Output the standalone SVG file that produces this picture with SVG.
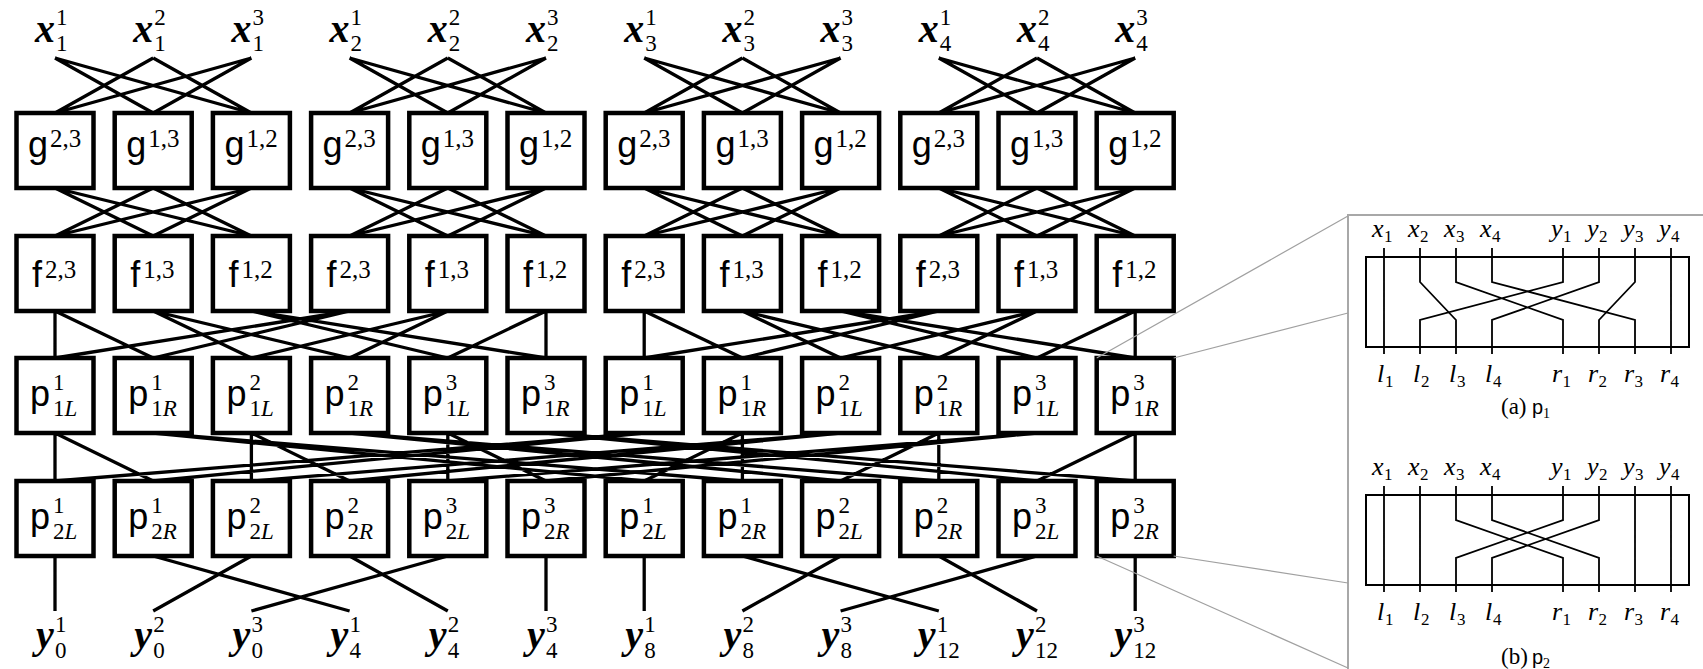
<svg xmlns="http://www.w3.org/2000/svg" width="1703" height="669" viewBox="0 0 1703 669">
<style>
.bx{fill:#fff;stroke:#000;stroke-width:4.5}
.w{fill:none;stroke:#000;stroke-width:3.3}
.v{font-family:"Liberation Serif",serif;font-style:italic;font-weight:bold;font-size:40px}
.d{font-family:"Liberation Serif",serif;font-size:23px}
.e{font-family:"Liberation Serif",serif;font-size:25px}
.sf{font-family:"Liberation Sans",sans-serif;font-size:36px}
.it{font-style:italic}
.pw{fill:none;stroke:#000;stroke-width:1.8}
.pr{fill:none;stroke:#000;stroke-width:2}
.pl{font-family:"Liberation Serif",serif;font-style:italic;font-size:26px}
.ps{font-family:"Liberation Serif",serif;font-size:17px}
.cap{font-family:"Liberation Serif",serif;font-size:23px}
.cps{font-family:"Liberation Sans",sans-serif;font-size:20px}
.cs{font-family:"Liberation Serif",serif;font-size:14px}
.gr{fill:none;stroke:#a0a0a0;stroke-width:1.2}
.gb{fill:none;stroke:#a8a8a8;stroke-width:2}
</style>
<defs>
<path id="xg" d="M55,58L153.2,113M55,58L251.4,113M153.2,58L55,113M153.2,58L251.4,113M251.4,58L55,113M251.4,58L153.2,113"/>
<path id="gf" d="M55,188L153.2,236M55,188L251.4,236M153.2,188L55,236M153.2,188L251.4,236M251.4,188L55,236M251.4,188L153.2,236"/>
<path id="fp" d="M55,311L55,358M55,311L153.2,358M349.6,311L55,358M349.6,311L153.2,358M153.2,311L251.4,358M153.2,311L349.6,358M447.8,311L251.4,358M447.8,311L349.6,358M251.4,311L447.8,358M251.4,311L546,358M546,311L447.8,358M546,311L546,358"/>
<path id="py" d="M55,556L55,611M153.2,556L349.6,611M251.4,556L153.2,611M349.6,556L447.8,611M447.8,556L251.4,611M546,556L546,611"/>
</defs>

<g id="connectors" class="w">
<use href="#xg"/><use href="#xg" x="294.6"/><use href="#xg" x="589.2"/><use href="#xg" x="883.8"/>
<use href="#gf"/><use href="#gf" x="294.6"/><use href="#gf" x="589.2"/><use href="#gf" x="883.8"/>
<use href="#fp"/><use href="#fp" x="589.2"/>
<path d="M55,433L55,481M55,433L153.2,481M644.2,433L55,481M644.2,433L153.2,481M153.2,433L644.2,481M153.2,433L742.4,481M742.4,433L644.2,481M742.4,433L742.4,481M251.4,433L251.4,481M251.4,433L349.6,481M840.6,433L251.4,481M840.6,433L349.6,481M349.6,433L840.6,481M349.6,433L938.8,481M938.8,433L840.6,481M938.8,433L938.8,481M447.8,433L447.8,481M447.8,433L546,481M1037,433L447.8,481M1037,433L546,481M546,433L1037,481M546,433L1135.2,481M1135.2,433L1037,481M1135.2,433L1135.2,481"/>
<use href="#py"/><use href="#py" x="589.2"/>
</g>

<g id="inputs">
<g id="x-1"><text class="v" x="35" y="42">x</text><text class="d" x="56" y="25">1</text><text class="d" x="56" y="51">1</text></g>
<g id="x-2"><text class="v" x="133.2" y="42">x</text><text class="d" x="154.2" y="25">2</text><text class="d" x="154.2" y="51">1</text></g>
<g id="x-3"><text class="v" x="231.4" y="42">x</text><text class="d" x="252.4" y="25">3</text><text class="d" x="252.4" y="51">1</text></g>
<g id="x-4"><text class="v" x="329.6" y="42">x</text><text class="d" x="350.6" y="25">1</text><text class="d" x="350.6" y="51">2</text></g>
<g id="x-5"><text class="v" x="427.8" y="42">x</text><text class="d" x="448.8" y="25">2</text><text class="d" x="448.8" y="51">2</text></g>
<g id="x-6"><text class="v" x="526" y="42">x</text><text class="d" x="547" y="25">3</text><text class="d" x="547" y="51">2</text></g>
<g id="x-7"><text class="v" x="624.2" y="42">x</text><text class="d" x="645.2" y="25">1</text><text class="d" x="645.2" y="51">3</text></g>
<g id="x-8"><text class="v" x="722.4" y="42">x</text><text class="d" x="743.4" y="25">2</text><text class="d" x="743.4" y="51">3</text></g>
<g id="x-9"><text class="v" x="820.6" y="42">x</text><text class="d" x="841.6" y="25">3</text><text class="d" x="841.6" y="51">3</text></g>
<g id="x-10"><text class="v" x="918.8" y="42">x</text><text class="d" x="939.8" y="25">1</text><text class="d" x="939.8" y="51">4</text></g>
<g id="x-11"><text class="v" x="1017" y="42">x</text><text class="d" x="1038" y="25">2</text><text class="d" x="1038" y="51">4</text></g>
<g id="x-12"><text class="v" x="1115.2" y="42">x</text><text class="d" x="1136.2" y="25">3</text><text class="d" x="1136.2" y="51">4</text></g>
</g>

<g id="g-row">
<g id="g-1"><rect class="bx" x="16.5" y="113" width="77" height="75"/><text class="sf" x="28" y="157">g</text><text class="e" x="50" y="147">2,3</text></g>
<g id="g-2"><rect class="bx" x="114.7" y="113" width="77" height="75"/><text class="sf" x="126.2" y="157">g</text><text class="e" x="148.2" y="147">1,3</text></g>
<g id="g-3"><rect class="bx" x="212.9" y="113" width="77" height="75"/><text class="sf" x="224.4" y="157">g</text><text class="e" x="246.4" y="147">1,2</text></g>
<g id="g-4"><rect class="bx" x="311.1" y="113" width="77" height="75"/><text class="sf" x="322.6" y="157">g</text><text class="e" x="344.6" y="147">2,3</text></g>
<g id="g-5"><rect class="bx" x="409.3" y="113" width="77" height="75"/><text class="sf" x="420.8" y="157">g</text><text class="e" x="442.8" y="147">1,3</text></g>
<g id="g-6"><rect class="bx" x="507.5" y="113" width="77" height="75"/><text class="sf" x="519" y="157">g</text><text class="e" x="541" y="147">1,2</text></g>
<g id="g-7"><rect class="bx" x="605.7" y="113" width="77" height="75"/><text class="sf" x="617.2" y="157">g</text><text class="e" x="639.2" y="147">2,3</text></g>
<g id="g-8"><rect class="bx" x="703.9" y="113" width="77" height="75"/><text class="sf" x="715.4" y="157">g</text><text class="e" x="737.4" y="147">1,3</text></g>
<g id="g-9"><rect class="bx" x="802.1" y="113" width="77" height="75"/><text class="sf" x="813.6" y="157">g</text><text class="e" x="835.6" y="147">1,2</text></g>
<g id="g-10"><rect class="bx" x="900.3" y="113" width="77" height="75"/><text class="sf" x="911.8" y="157">g</text><text class="e" x="933.8" y="147">2,3</text></g>
<g id="g-11"><rect class="bx" x="998.5" y="113" width="77" height="75"/><text class="sf" x="1010" y="157">g</text><text class="e" x="1032" y="147">1,3</text></g>
<g id="g-12"><rect class="bx" x="1096.7" y="113" width="77" height="75"/><text class="sf" x="1108.2" y="157">g</text><text class="e" x="1130.2" y="147">1,2</text></g>
</g>

<g id="f-row">
<g id="f-1"><rect class="bx" x="16.5" y="236" width="77" height="75"/><text class="sf" x="32" y="287">f</text><text class="e" x="45" y="278">2,3</text></g>
<g id="f-2"><rect class="bx" x="114.7" y="236" width="77" height="75"/><text class="sf" x="130.2" y="287">f</text><text class="e" x="143.2" y="278">1,3</text></g>
<g id="f-3"><rect class="bx" x="212.9" y="236" width="77" height="75"/><text class="sf" x="228.4" y="287">f</text><text class="e" x="241.4" y="278">1,2</text></g>
<g id="f-4"><rect class="bx" x="311.1" y="236" width="77" height="75"/><text class="sf" x="326.6" y="287">f</text><text class="e" x="339.6" y="278">2,3</text></g>
<g id="f-5"><rect class="bx" x="409.3" y="236" width="77" height="75"/><text class="sf" x="424.8" y="287">f</text><text class="e" x="437.8" y="278">1,3</text></g>
<g id="f-6"><rect class="bx" x="507.5" y="236" width="77" height="75"/><text class="sf" x="523" y="287">f</text><text class="e" x="536" y="278">1,2</text></g>
<g id="f-7"><rect class="bx" x="605.7" y="236" width="77" height="75"/><text class="sf" x="621.2" y="287">f</text><text class="e" x="634.2" y="278">2,3</text></g>
<g id="f-8"><rect class="bx" x="703.9" y="236" width="77" height="75"/><text class="sf" x="719.4" y="287">f</text><text class="e" x="732.4" y="278">1,3</text></g>
<g id="f-9"><rect class="bx" x="802.1" y="236" width="77" height="75"/><text class="sf" x="817.6" y="287">f</text><text class="e" x="830.6" y="278">1,2</text></g>
<g id="f-10"><rect class="bx" x="900.3" y="236" width="77" height="75"/><text class="sf" x="915.8" y="287">f</text><text class="e" x="928.8" y="278">2,3</text></g>
<g id="f-11"><rect class="bx" x="998.5" y="236" width="77" height="75"/><text class="sf" x="1014" y="287">f</text><text class="e" x="1027" y="278">1,3</text></g>
<g id="f-12"><rect class="bx" x="1096.7" y="236" width="77" height="75"/><text class="sf" x="1112.2" y="287">f</text><text class="e" x="1125.2" y="278">1,2</text></g>
</g>

<g id="p1-row">
<g id="p1-1"><rect class="bx" x="16.5" y="358" width="77" height="75"/><text class="sf" x="30" y="406">p</text><text class="d" x="53" y="390">1</text><text class="d" x="53" y="416">1<tspan class="it">L</tspan></text></g>
<g id="p1-2"><rect class="bx" x="114.7" y="358" width="77" height="75"/><text class="sf" x="128.2" y="406">p</text><text class="d" x="151.2" y="390">1</text><text class="d" x="151.2" y="416">1<tspan class="it">R</tspan></text></g>
<g id="p1-3"><rect class="bx" x="212.9" y="358" width="77" height="75"/><text class="sf" x="226.4" y="406">p</text><text class="d" x="249.4" y="390">2</text><text class="d" x="249.4" y="416">1<tspan class="it">L</tspan></text></g>
<g id="p1-4"><rect class="bx" x="311.1" y="358" width="77" height="75"/><text class="sf" x="324.6" y="406">p</text><text class="d" x="347.6" y="390">2</text><text class="d" x="347.6" y="416">1<tspan class="it">R</tspan></text></g>
<g id="p1-5"><rect class="bx" x="409.3" y="358" width="77" height="75"/><text class="sf" x="422.8" y="406">p</text><text class="d" x="445.8" y="390">3</text><text class="d" x="445.8" y="416">1<tspan class="it">L</tspan></text></g>
<g id="p1-6"><rect class="bx" x="507.5" y="358" width="77" height="75"/><text class="sf" x="521" y="406">p</text><text class="d" x="544" y="390">3</text><text class="d" x="544" y="416">1<tspan class="it">R</tspan></text></g>
<g id="p1-7"><rect class="bx" x="605.7" y="358" width="77" height="75"/><text class="sf" x="619.2" y="406">p</text><text class="d" x="642.2" y="390">1</text><text class="d" x="642.2" y="416">1<tspan class="it">L</tspan></text></g>
<g id="p1-8"><rect class="bx" x="703.9" y="358" width="77" height="75"/><text class="sf" x="717.4" y="406">p</text><text class="d" x="740.4" y="390">1</text><text class="d" x="740.4" y="416">1<tspan class="it">R</tspan></text></g>
<g id="p1-9"><rect class="bx" x="802.1" y="358" width="77" height="75"/><text class="sf" x="815.6" y="406">p</text><text class="d" x="838.6" y="390">2</text><text class="d" x="838.6" y="416">1<tspan class="it">L</tspan></text></g>
<g id="p1-10"><rect class="bx" x="900.3" y="358" width="77" height="75"/><text class="sf" x="913.8" y="406">p</text><text class="d" x="936.8" y="390">2</text><text class="d" x="936.8" y="416">1<tspan class="it">R</tspan></text></g>
<g id="p1-11"><rect class="bx" x="998.5" y="358" width="77" height="75"/><text class="sf" x="1012" y="406">p</text><text class="d" x="1035" y="390">3</text><text class="d" x="1035" y="416">1<tspan class="it">L</tspan></text></g>
<g id="p1-12"><rect class="bx" x="1096.7" y="358" width="77" height="75"/><text class="sf" x="1110.2" y="406">p</text><text class="d" x="1133.2" y="390">3</text><text class="d" x="1133.2" y="416">1<tspan class="it">R</tspan></text></g>
</g>

<g id="p2-row">
<g id="p2-1"><rect class="bx" x="16.5" y="481" width="77" height="75"/><text class="sf" x="30" y="529">p</text><text class="d" x="53" y="513">1</text><text class="d" x="53" y="539">2<tspan class="it">L</tspan></text></g>
<g id="p2-2"><rect class="bx" x="114.7" y="481" width="77" height="75"/><text class="sf" x="128.2" y="529">p</text><text class="d" x="151.2" y="513">1</text><text class="d" x="151.2" y="539">2<tspan class="it">R</tspan></text></g>
<g id="p2-3"><rect class="bx" x="212.9" y="481" width="77" height="75"/><text class="sf" x="226.4" y="529">p</text><text class="d" x="249.4" y="513">2</text><text class="d" x="249.4" y="539">2<tspan class="it">L</tspan></text></g>
<g id="p2-4"><rect class="bx" x="311.1" y="481" width="77" height="75"/><text class="sf" x="324.6" y="529">p</text><text class="d" x="347.6" y="513">2</text><text class="d" x="347.6" y="539">2<tspan class="it">R</tspan></text></g>
<g id="p2-5"><rect class="bx" x="409.3" y="481" width="77" height="75"/><text class="sf" x="422.8" y="529">p</text><text class="d" x="445.8" y="513">3</text><text class="d" x="445.8" y="539">2<tspan class="it">L</tspan></text></g>
<g id="p2-6"><rect class="bx" x="507.5" y="481" width="77" height="75"/><text class="sf" x="521" y="529">p</text><text class="d" x="544" y="513">3</text><text class="d" x="544" y="539">2<tspan class="it">R</tspan></text></g>
<g id="p2-7"><rect class="bx" x="605.7" y="481" width="77" height="75"/><text class="sf" x="619.2" y="529">p</text><text class="d" x="642.2" y="513">1</text><text class="d" x="642.2" y="539">2<tspan class="it">L</tspan></text></g>
<g id="p2-8"><rect class="bx" x="703.9" y="481" width="77" height="75"/><text class="sf" x="717.4" y="529">p</text><text class="d" x="740.4" y="513">1</text><text class="d" x="740.4" y="539">2<tspan class="it">R</tspan></text></g>
<g id="p2-9"><rect class="bx" x="802.1" y="481" width="77" height="75"/><text class="sf" x="815.6" y="529">p</text><text class="d" x="838.6" y="513">2</text><text class="d" x="838.6" y="539">2<tspan class="it">L</tspan></text></g>
<g id="p2-10"><rect class="bx" x="900.3" y="481" width="77" height="75"/><text class="sf" x="913.8" y="529">p</text><text class="d" x="936.8" y="513">2</text><text class="d" x="936.8" y="539">2<tspan class="it">R</tspan></text></g>
<g id="p2-11"><rect class="bx" x="998.5" y="481" width="77" height="75"/><text class="sf" x="1012" y="529">p</text><text class="d" x="1035" y="513">3</text><text class="d" x="1035" y="539">2<tspan class="it">L</tspan></text></g>
<g id="p2-12"><rect class="bx" x="1096.7" y="481" width="77" height="75"/><text class="sf" x="1110.2" y="529">p</text><text class="d" x="1133.2" y="513">3</text><text class="d" x="1133.2" y="539">2<tspan class="it">R</tspan></text></g>
</g>

<g id="outputs">
<g id="y-1"><text class="v" x="36" y="648">y</text><text class="d" x="55" y="632">1</text><text class="d" x="55" y="658">0</text></g>
<g id="y-2"><text class="v" x="134.2" y="648">y</text><text class="d" x="153.2" y="632">2</text><text class="d" x="153.2" y="658">0</text></g>
<g id="y-3"><text class="v" x="232.4" y="648">y</text><text class="d" x="251.4" y="632">3</text><text class="d" x="251.4" y="658">0</text></g>
<g id="y-4"><text class="v" x="330.6" y="648">y</text><text class="d" x="349.6" y="632">1</text><text class="d" x="349.6" y="658">4</text></g>
<g id="y-5"><text class="v" x="428.8" y="648">y</text><text class="d" x="447.8" y="632">2</text><text class="d" x="447.8" y="658">4</text></g>
<g id="y-6"><text class="v" x="527" y="648">y</text><text class="d" x="546" y="632">3</text><text class="d" x="546" y="658">4</text></g>
<g id="y-7"><text class="v" x="625.2" y="648">y</text><text class="d" x="644.2" y="632">1</text><text class="d" x="644.2" y="658">8</text></g>
<g id="y-8"><text class="v" x="723.4" y="648">y</text><text class="d" x="742.4" y="632">2</text><text class="d" x="742.4" y="658">8</text></g>
<g id="y-9"><text class="v" x="821.6" y="648">y</text><text class="d" x="840.6" y="632">3</text><text class="d" x="840.6" y="658">8</text></g>
<g id="y-10"><text class="v" x="917.8" y="648">y</text><text class="d" x="936.8" y="632">1</text><text class="d" x="936.8" y="658">12</text></g>
<g id="y-11"><text class="v" x="1016" y="648">y</text><text class="d" x="1035" y="632">2</text><text class="d" x="1035" y="658">12</text></g>
<g id="y-12"><text class="v" x="1114.2" y="648">y</text><text class="d" x="1133.2" y="632">3</text><text class="d" x="1133.2" y="658">12</text></g>
</g>

<g id="inset-frame">
<path class="gb" d="M1348,669V215H1703"/>
<path class="gr" d="M1096.7,358L1348,216M1173.7,358L1348,313M1096.7,556L1348,668M1173.7,556L1348,583"/>
</g>

<g id="inset-p1">
<rect class="pr" x="1366" y="257" width="323" height="90"/>
<path class="pw" d="M1384,248V354M1420,248V282L1456,320V354M1456,248V282L1563,320V354M1492,248V282L1635,320V354M1563,248V282L1420,320V354M1599,248V282L1492,320V354M1635,248V282L1599,320V354M1671,248V354"/>
<text class="pl" x="1372" y="237">x</text><text class="ps" x="1384" y="242">1</text>
<text class="pl" x="1408" y="237">x</text><text class="ps" x="1420" y="242">2</text>
<text class="pl" x="1444" y="237">x</text><text class="ps" x="1456" y="242">3</text>
<text class="pl" x="1480" y="237">x</text><text class="ps" x="1492" y="242">4</text>
<text class="pl" x="1551" y="237">y</text><text class="ps" x="1563" y="242">1</text>
<text class="pl" x="1587" y="237">y</text><text class="ps" x="1599" y="242">2</text>
<text class="pl" x="1623" y="237">y</text><text class="ps" x="1635" y="242">3</text>
<text class="pl" x="1659" y="237">y</text><text class="ps" x="1671" y="242">4</text>
<text class="pl" x="1377" y="382">l</text><text class="ps" x="1385" y="387">1</text>
<text class="pl" x="1413" y="382">l</text><text class="ps" x="1421" y="387">2</text>
<text class="pl" x="1449" y="382">l</text><text class="ps" x="1457" y="387">3</text>
<text class="pl" x="1485" y="382">l</text><text class="ps" x="1493" y="387">4</text>
<text class="pl" x="1552" y="382">r</text><text class="ps" x="1562.5" y="387">1</text>
<text class="pl" x="1588" y="382">r</text><text class="ps" x="1598.5" y="387">2</text>
<text class="pl" x="1624" y="382">r</text><text class="ps" x="1634.5" y="387">3</text>
<text class="pl" x="1660" y="382">r</text><text class="ps" x="1670.5" y="387">4</text>
<text class="cap" x="1501" y="414">(a)</text><text class="cps" x="1532" y="414">p</text><text class="cs" x="1543" y="418">1</text>
</g>

<g id="inset-p2">
<rect class="pr" x="1366" y="495" width="323" height="90"/>
<path class="pw" d="M1384,486V592M1420,486V592M1456,486V520L1563,558V592M1492,486V520L1599,558V592M1563,486V520L1456,558V592M1599,486V520L1492,558V592M1635,486V592M1671,486V592"/>
<text class="pl" x="1372" y="475">x</text><text class="ps" x="1384" y="480">1</text>
<text class="pl" x="1408" y="475">x</text><text class="ps" x="1420" y="480">2</text>
<text class="pl" x="1444" y="475">x</text><text class="ps" x="1456" y="480">3</text>
<text class="pl" x="1480" y="475">x</text><text class="ps" x="1492" y="480">4</text>
<text class="pl" x="1551" y="475">y</text><text class="ps" x="1563" y="480">1</text>
<text class="pl" x="1587" y="475">y</text><text class="ps" x="1599" y="480">2</text>
<text class="pl" x="1623" y="475">y</text><text class="ps" x="1635" y="480">3</text>
<text class="pl" x="1659" y="475">y</text><text class="ps" x="1671" y="480">4</text>
<text class="pl" x="1377" y="620">l</text><text class="ps" x="1385" y="625">1</text>
<text class="pl" x="1413" y="620">l</text><text class="ps" x="1421" y="625">2</text>
<text class="pl" x="1449" y="620">l</text><text class="ps" x="1457" y="625">3</text>
<text class="pl" x="1485" y="620">l</text><text class="ps" x="1493" y="625">4</text>
<text class="pl" x="1552" y="620">r</text><text class="ps" x="1562.5" y="625">1</text>
<text class="pl" x="1588" y="620">r</text><text class="ps" x="1598.5" y="625">2</text>
<text class="pl" x="1624" y="620">r</text><text class="ps" x="1634.5" y="625">3</text>
<text class="pl" x="1660" y="620">r</text><text class="ps" x="1670.5" y="625">4</text>
<text class="cap" x="1501" y="664">(b)</text><text class="cps" x="1532" y="664">p</text><text class="cs" x="1543" y="668">2</text>
</g>
</svg>
